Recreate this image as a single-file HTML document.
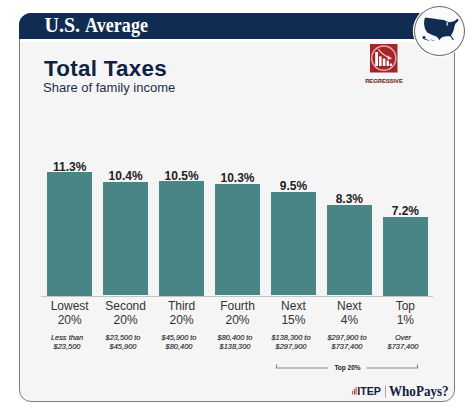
<!DOCTYPE html>
<html><head><meta charset="utf-8">
<style>
*{margin:0;padding:0;box-sizing:border-box}
html,body{width:474px;height:417px;background:#fff;overflow:hidden;position:relative;font-family:"Liberation Sans",sans-serif}
.abs{position:absolute}
#card{left:19px;top:13px;width:436px;height:389.4px;border:1.5px solid #7c7c7c;border-radius:12px;background:#f5f5f5}
#hdr{left:19px;top:13px;width:400px;height:26.4px;background:#112c52;border-top-left-radius:12px}
#hdrline{left:20px;top:39.4px;width:400px;height:2.6px;background:#fff}
#hdrtxt{left:44.5px;top:11.8px;height:26px;line-height:26px;color:#fff;font-family:"Liberation Serif",serif;font-weight:bold;font-size:20px;white-space:nowrap}
#hdrtxt span{display:inline-block;transform-origin:0 50%;transform:scaleX(0.905)}
#circ{left:413.5px;top:5.5px;width:51.5px;height:50.5px;border-radius:50%;background:#fbfbfb;border:1.7px solid #666;box-shadow:0 0 0 1.2px #fff}
#title{left:44px;top:53.5px;font-weight:bold;font-size:22.4px;letter-spacing:0.28px;color:#0f2244;white-space:nowrap;line-height:30px}
#sub{left:43px;top:80px;font-size:13px;color:#1e2d4a;white-space:nowrap;line-height:16px}
.bar{position:absolute;background:#4a8585}
.val{position:absolute;width:80px;text-align:center;font-weight:bold;font-size:12px;color:#222;line-height:14px}
.lab{position:absolute;width:80px;text-align:center;font-size:12px;color:#333;line-height:14.3px}
.rng{position:absolute;width:80px;text-align:center;font-style:italic;font-size:8px;transform:scaleX(0.925);color:#151515;-webkit-text-stroke:0.12px #151515;line-height:9.5px}
#axis{left:41px;top:295.5px;width:392px;height:1px;background:#c4c4c4}
#reg{left:360px;top:76.8px;width:48px;text-align:center;font-weight:bold;font-size:5.8px;color:#82262b;-webkit-text-stroke:0.12px #82262b;line-height:9px}
#top20{left:320px;top:363px;width:55px;text-align:center;font-weight:bold;font-size:6.5px;color:#222;line-height:10px}
#itep{left:357.2px;top:385.3px;font-weight:bold;font-size:10.7px;color:#16203a;line-height:12px;white-space:nowrap}
#who{left:389px;top:384.2px;transform-origin:0 0;transform:scaleX(0.935);font-family:"Liberation Serif",serif;font-weight:bold;font-size:14px;color:#13213f;line-height:16px;white-space:nowrap}
</style></head><body>
<div id="card" class="abs"></div>
<div id="hdr" class="abs"></div>
<div id="hdrline" class="abs"></div>
<div id="hdrtxt" class="abs">U.S. <span>Average</span></div>
<div id="circ" class="abs"></div>
<div id="title" class="abs">Total Taxes</div>
<div id="sub" class="abs">Share of family income</div>
<div id="axis" class="abs"></div>
<div class="bar" style="left:47.26px;top:172.00px;width:44.85px;height:123.50px"></div>
<div class="val" style="left:29.69px;top:159.50px">11.3%</div>
<div class="lab" style="left:29.69px;top:299px">Lowest<br>20%</div>
<div class="rng" style="left:27.09px;top:332.8px">Less than<br>$23,500</div>
<div class="bar" style="left:103.20px;top:181.70px;width:44.85px;height:113.80px"></div>
<div class="val" style="left:85.62px;top:169.20px">10.4%</div>
<div class="lab" style="left:85.62px;top:299px">Second<br>20%</div>
<div class="rng" style="left:83.02px;top:332.8px">$23,500 to<br>$45,900</div>
<div class="bar" style="left:159.14px;top:181.00px;width:44.85px;height:114.50px"></div>
<div class="val" style="left:141.56px;top:168.50px">10.5%</div>
<div class="lab" style="left:141.56px;top:299px">Third<br>20%</div>
<div class="rng" style="left:138.97px;top:332.8px">$45,900 to<br>$80,400</div>
<div class="bar" style="left:215.08px;top:183.60px;width:44.85px;height:111.90px"></div>
<div class="val" style="left:197.50px;top:171.10px">10.3%</div>
<div class="lab" style="left:197.50px;top:299px">Fourth<br>20%</div>
<div class="rng" style="left:194.91px;top:332.8px">$80,400 to<br>$138,300</div>
<div class="bar" style="left:271.02px;top:191.70px;width:44.85px;height:103.80px"></div>
<div class="val" style="left:253.44px;top:179.20px">9.5%</div>
<div class="lab" style="left:253.44px;top:299px">Next<br>15%</div>
<div class="rng" style="left:250.84px;top:332.8px">$138,300 to<br>$297,900</div>
<div class="bar" style="left:326.96px;top:204.60px;width:44.85px;height:90.90px"></div>
<div class="val" style="left:309.38px;top:192.10px">8.3%</div>
<div class="lab" style="left:309.38px;top:299px">Next<br>4%</div>
<div class="rng" style="left:306.78px;top:332.8px">$297,900 to<br>$737,400</div>
<div class="bar" style="left:382.90px;top:216.75px;width:44.85px;height:78.75px"></div>
<div class="val" style="left:365.32px;top:204.25px">7.2%</div>
<div class="lab" style="left:365.32px;top:299px">Top<br>1%</div>
<div class="rng" style="left:362.72px;top:332.8px">Over<br>$737,400</div>
<svg class="abs" style="left:0;top:0" width="474" height="417" viewBox="0 0 474 417">
 <path d="M425.31,17.54 L428.86,17.99 L433.29,18.61 L437.71,19.31 L443.91,20.02 L445.69,21.09 L449.23,22.15 L451.89,21.79 L454.54,20.91 L456.32,19.49 L457.64,18.87 L458.71,20.20 L457.20,21.97 L455.43,23.74 L454.54,25.96 L454.10,28.61 L453.22,31.27 L451.89,33.93 L451.00,35.43 L452.33,37.47 L453.84,39.86 L452.77,40.31 L451.44,38.09 L450.12,36.32 L446.57,36.14 L443.03,36.85 L440.81,38.36 L439.49,40.31 L438.16,38.36 L436.39,36.59 L434.17,35.70 L430.63,34.19 L427.09,32.60 L424.87,28.61 L423.99,23.74 L424.43,19.31Z" fill="#112c52"/><ellipse cx="447.2" cy="23.9" rx="0.9" ry="2.1" fill="#b9c3d1"/>
 <circle cx="424" cy="37.6" r="1.5" fill="#112c52"/><path d="M424.5,38.5 L429,40.3 L428.6,40.7 L424,39.3Z" fill="#112c52"/>
 <circle cx="431" cy="39.9" r="0.55" fill="#112c52" opacity="0.6"/><circle cx="432.4" cy="40.2" r="0.55" fill="#112c52" opacity="0.6"/><circle cx="433.6" cy="40.5" r="0.6" fill="#112c52" opacity="0.6"/>
 <rect x="370" y="44" width="27.5" height="28.5" fill="#a2262a"/>
 <circle cx="383.8" cy="58.1" r="12.1" fill="none" stroke="#efaaa8" stroke-width="1.4"/>
 <rect x="375.2" y="52" width="2.8" height="14" fill="#fff"/>
 <rect x="379" y="56.4" width="2.6" height="9.6" fill="#fff"/>
 <rect x="382.8" y="58.6" width="2.6" height="7.4" fill="#fff"/>
 <rect x="386.6" y="60.7" width="2.4" height="5.3" fill="#fff"/>
 <rect x="389.8" y="63.6" width="2.2" height="2.4" fill="#fff"/>
 <path d="M378.3,49.3 Q383.5,55.5 389.5,57.8" fill="none" stroke="#f7cdca" stroke-width="1.2"/>
 <path d="M387.6,55.3 L392.3,58.8 L387.4,59.8Z" fill="#f7cdca"/>
 <path d="M276.5,364.5 V368 H328 M366.5,368 H417.5 V364.5" fill="none" stroke="#888" stroke-width="1.2"/>
 <rect x="352.2" y="390.8" width="1" height="3.7" fill="#b2463a"/>
 <rect x="353.9" y="389" width="1" height="5.5" fill="#b2463a"/>
 <rect x="355.5" y="387.1" width="1.1" height="7.4" fill="#b2463a"/>
 <rect x="385" y="385.5" width="0.8" height="12" fill="#999"/>
</svg>
<div id="reg" class="abs">REGRESSIVE</div>
<div id="top20" class="abs">Top 20%</div>
<div id="itep" class="abs">ITEP</div>
<div id="who" class="abs">WhoPays?</div>
</body></html>
